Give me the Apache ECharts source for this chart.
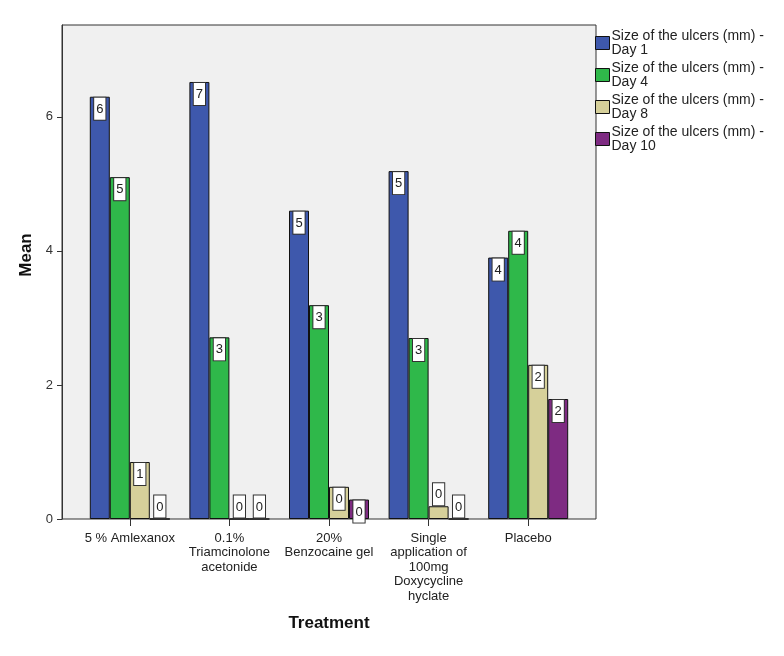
<!DOCTYPE html>
<html>
<head>
<meta charset="utf-8">
<script src="https://cdn.jsdelivr.net/npm/echarts@6/dist/echarts.min.js"></script>
<style>
  html, body { margin: 0; padding: 0; background: #fff; }
  #main { width: 784px; height: 656px; }
</style>
</head>
<body>
<div id="main"></div>
<script>
  var treatments = ['5 % Amlexanox', '0.1%\nTriamcinolone\nacetonide', '20%\nBenzocaine gel',
    'Single\napplication of\n100mg\nDoxycycline\nhyclate', 'Placebo'];
  var seriesNames = ['Size of the ulcers (mm) -\nDay 1', 'Size of the ulcers (mm) -\nDay 4',
    'Size of the ulcers (mm) -\nDay 8', 'Size of the ulcers (mm) -\nDay 10'];
  var day1 = [6.3, 6.52, 4.6, 5.19, 3.9];
  var day4 = [5.1, 2.71, 3.19, 2.7, 4.3];
  var day8 = [0.85, 0, 0.48, 0.19, 2.3];
  var day10 = [0, 0, 0.29, 0, 1.79];
  var colors = ['#3e58ac', '#2fb84a', '#d6d09a', '#7e2b82'];
  var yTicks = [0, 2, 4, 6];

  var font = 'Arial, "Liberation Sans", sans-serif';

  // short bars get their box above the bar, like SPSS does
  function points(vals) {
    return vals.map(function (v) {
      return { value: v, label: { position: v < 0.25 ? 'top' : 'insideTop' } };
    });
  }

  function bar(name, vals, i) {
    return {
      name: name,
      type: 'bar',
      data: points(vals),
      barWidth: 20,
      barGap: '0%',
      itemStyle: { color: colors[i], borderColor: '#111', borderWidth: 1 },
      label: {
        show: true,
        distance: 1,
        formatter: function (p) { return Math.round(p.value); },
        fontFamily: font,
        fontSize: 13,
        color: '#222',
        backgroundColor: '#fff',
        borderColor: '#333',
        borderWidth: 1,
        padding: [5, 2, 4, 2]
      }
    };
  }

  var myChart = echarts.init(document.getElementById('main'));
  myChart.setOption({
    animation: false,
    backgroundColor: '#fff',
    graphic: [{
      type: 'rect',
      z: -10,
      shape: { x: 62, y: 25, width: 534, height: 494 },
      style: { fill: '#f0f0f0', stroke: '#333', lineWidth: 1 }
    }],
    legend: {
      orient: 'vertical',
      left: 590,
      top: 24,
      itemWidth: 14,
      itemHeight: 13,
      itemGap: 4,
      icon: 'rect',
      itemStyle: { borderColor: '#111', borderWidth: 1 },
      textStyle: { fontFamily: font, fontSize: 14, color: '#222', lineHeight: 14, padding: [0, 0, 0, -3] },
      data: seriesNames
    },
    grid: { left: 80, right: 206, top: 25, bottom: 137 },
    xAxis: {
      type: 'category',
      data: treatments,
      name: 'Treatment',
      nameLocation: 'middle',
      nameGap: 96,
      nameTextStyle: { fontFamily: font, fontSize: 17, fontWeight: 'bold', color: '#111' },
      axisLine: { show: false },
      axisTick: { show: true, alignWithLabel: true, length: 7, lineStyle: { color: '#333' } },
      axisLabel: { interval: 0, margin: 12, fontFamily: font, fontSize: 13, lineHeight: 14.5, color: '#222' }
    },
    yAxis: {
      type: 'value',
      min: yTicks[0],
      max: 7.37,
      interval: yTicks[1] - yTicks[0],
      offset: 18,
      name: 'Mean',
      nameLocation: 'middle',
      nameGap: 22,
      nameTextStyle: { fontFamily: font, fontSize: 17, fontWeight: 'bold', color: '#111', padding: [0, 0, 0, 34] },
      axisLine: { show: true, lineStyle: { color: '#333' } },
      axisTick: { show: true, length: 5, lineStyle: { color: '#333' } },
      axisLabel: { showMaxLabel: false, margin: 9, fontFamily: font, fontSize: 13, color: '#333' },
      splitLine: { show: false }
    },
    series: [
      bar(seriesNames[0], day1, 0),
      bar(seriesNames[1], day4, 1),
      bar(seriesNames[2], day8, 2),
      bar(seriesNames[3], day10, 3)
    ]
  });
</script>
</body>
</html>
